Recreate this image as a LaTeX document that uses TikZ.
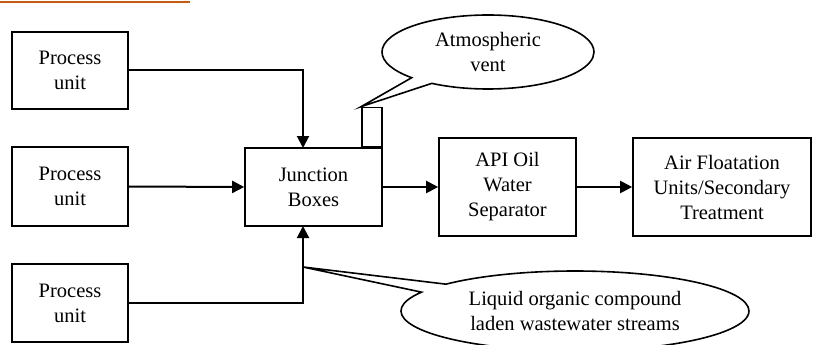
\documentclass[tikz,border=0pt]{standalone}
\usepackage{fontspec}
\setmainfont{Liberation Serif}
\usetikzlibrary{arrows.meta,shapes.callouts}

\definecolor{linkorange}{RGB}{197,90,17}

\tikzset{
  x=1pt, y=-1pt,
  every node/.style={font=\fontsize{20.5}{25}\selectfont, align=center, inner sep=0pt},
  unitbox/.style={draw, line width=1.6pt, fill=white},
  flow/.style={line width=2pt, -{Triangle[length=12pt,width=12pt]}},
  plainline/.style={line width=2pt},
  bubble/.style={ellipse callout, draw, line width=1.6pt, fill=white, callout pointer arc=14}
}

\begin{document}
\begin{tikzpicture}
  \useasboundingbox (0,0) rectangle (822,345);
  \clip (0,0) rectangle (822,345);

  % underline of the link text above the figure
  \draw[linkorange, line width=2pt] (0,2.5) -- (190,2.5);

  % process units
  \node[unitbox, minimum width=116pt, minimum height=77pt] (p1) at (70,70.5) {Process\\unit};
  \node[unitbox, minimum width=116pt, minimum height=79pt] (p2) at (70,186.5) {Process\\unit};
  \node[unitbox, minimum width=116pt, minimum height=78pt] (p3) at (70,303) {Process\\unit};

  % junction boxes with the vent stack on top
  \node[unitbox, minimum width=137pt, minimum height=78pt] (jb) at (313.5,187) {Junction\\Boxes};
  \node[draw, line width=1.6pt, minimum width=20pt, minimum height=39pt, anchor=south east] (vent) at (jb.north east) {};

  % treatment train
  \node[unitbox, minimum width=137pt, minimum height=98pt] (api) at (507.5,187) {API Oil\\Water\\Separator};
  \node[unitbox, minimum width=178pt, minimum height=98pt] (air) at (722,187) {Air Floatation\\Units/Secondary\\Treatment};

  % connection points on the junction box
  \coordinate (jtop) at (303,148);
  \coordinate (jbot) at (303,226);
  \coordinate (tip) at (303,267);

  % flows
  \draw[flow] (p1.east) -| (jtop);
  \draw[flow] (p2.east) -- (jb.west);
  \draw[flow] (p3.east) -| (jbot);
  \draw[flow] (jb.east) -- (api.west);
  \draw[flow] (api.east) -- (air.west);

  % callouts
  \node[bubble, minimum width=212pt, minimum height=74pt,
        callout absolute pointer={(vent.north west)}] (atm) at (488,52) {Atmospheric\\vent};
  \node[bubble, minimum width=348pt, minimum height=80pt,
        callout absolute pointer={(tip)}] (liq) at (575,311) {Liquid organic compound\\laden wastewater streams};
\end{tikzpicture}
\end{document}
